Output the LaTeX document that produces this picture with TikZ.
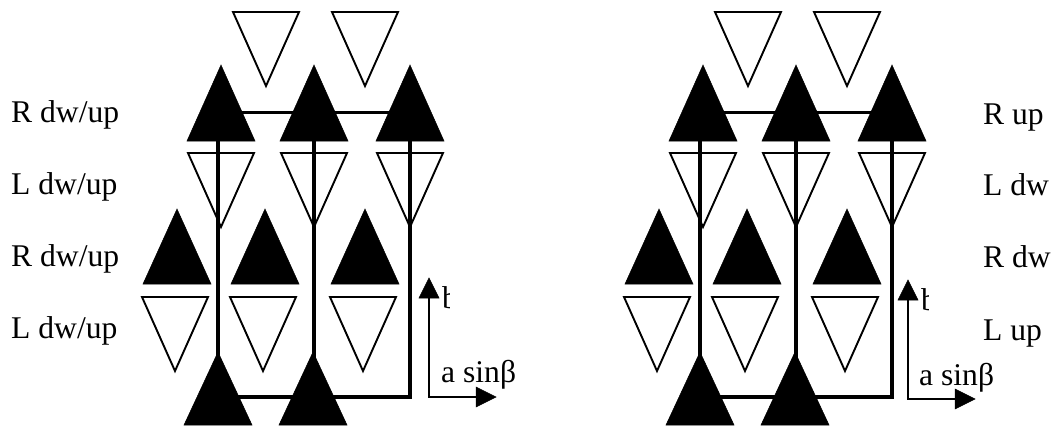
\documentclass[tikz,border=0pt]{standalone}
\usepackage{fontspec}
\setmainfont{Liberation Serif}
\tikzset{
  wtri/.style={draw=black,fill=white,line width=1.9pt,line join=miter},
  btri/.style={draw=black,fill=black,line width=0.5pt},
  wire/.style={draw=black,line width=3.3pt,line join=miter},
  axis/.style={draw=black,line width=2.1pt},
  lab/.style={font=\fontsize{31.6}{32}\selectfont,anchor=base west,inner sep=0pt,text=black}
}
\newcommand{\wt}[3]{\path[wtri] (#1-33,#2) -- (#1+33,#2) -- (#1,#2+#3) -- cycle;}
\newcommand{\bt}[3]{\path[btri] (#1-34,#2+#3) -- (#1+34,#2+#3) -- (#1,#2) -- cycle;}
\newcommand{\panel}[2]{%
\begin{scope}[xshift=#1pt]
 \coordinate (#2w1) at (218,141);
 \coordinate (#2w2) at (314,141);
 \coordinate (#2w3) at (410,141);
 \coordinate (#2b1) at (218,397);
 \coordinate (#2b2) at (314,397);
 \coordinate (#2b3) at (410,397);
 \coordinate (#2h1) at (221,112.5);
 \coordinate (#2h3) at (410,112.5);
 \wt{266}{12}{74}\wt{365}{12}{74}
 \wt{221}{153}{74}\wt{314}{153}{74}\wt{410}{153}{74}
 \wt{175}{297}{74}\wt{263}{297}{74}\wt{363}{297}{74}
 \draw[wire] (#2h1) -- (#2h3);
 \draw[wire] (#2w1) -- (#2b1);
 \draw[wire] (#2w2) -- (#2b2);
 \draw[wire] (#2w3) -- (#2b3) -- (#2b1);
 \bt{221}{65}{76}\bt{314}{65}{76}\bt{410}{65}{76}
 \bt{177}{209}{75}\bt{265}{209}{75}\bt{365}{209}{75}
 \bt{218}{352}{73}\bt{313}{352}{73}
\end{scope}}
\newcommand{\axes}[5]{% axis x, bottom y, name, label x, label baseline
 \coordinate (#3o) at (#1,#2);
 \coordinate (#3t) at (#1,#2-99);
 \coordinate (#3r) at (#1+47,#2);
 \draw[axis] (#3t) -- (#3o) -- (#3r);
 \path[btri] (#1-10,#2-99) -- (#1+10,#2-99) -- (#1,#2-119) -- cycle;
 \path[btri] (#1+47,#2-10) -- (#1+47,#2+10) -- (#1+67,#2) -- cycle;
 \begin{scope}
  \clip (#1+12,#2-130) rectangle (#1+20,#2-80);
  \node[lab] (#3b) at (#1+13,#2-89) {b};
 \end{scope}
 \node[lab] (#3a) at (#4,#5) {a sinβ};
}
\begin{document}
\begin{tikzpicture}[x=1pt,y=-1pt]
\useasboundingbox (0,0) rectangle (1052,428);
\panel{0}{L}
\panel{482}{R}
\axes{429}{397}{A}{441}{382}
\axes{908}{399}{B}{919}{385}
\node[lab] (l1) at (11,122) {R dw/up};
\node[lab] (l2) at (11,194) {L dw/up};
\node[lab] (l3) at (11,266) {R dw/up};
\node[lab] (l4) at (11,338) {L dw/up};
\node[lab] (r1) at (983,124) {R up};
\node[lab] (r2) at (983,195) {L dw};
\node[lab] (r3) at (983,267) {R dw};
\node[lab] (r4) at (983,340) {L up};
\end{tikzpicture}
\end{document}
